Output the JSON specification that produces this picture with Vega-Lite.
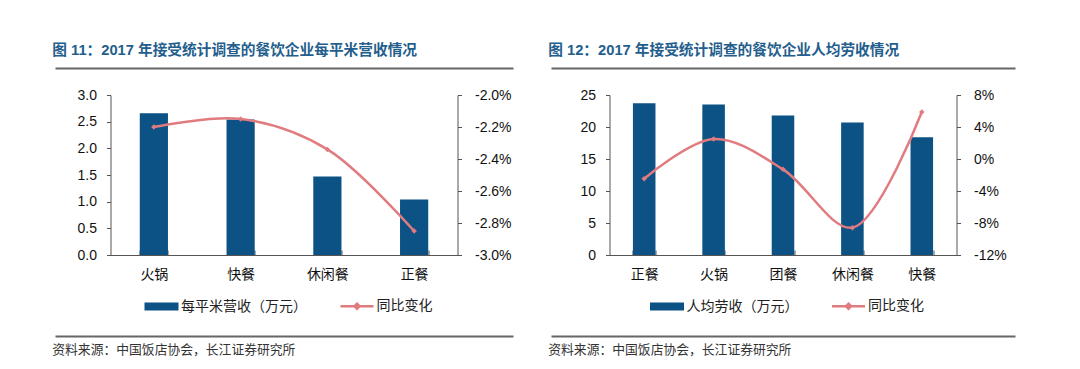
{
  "$schema": "https://vega.github.io/schema/vega-lite/v6.json",
  "background": "white",
  "padding": {"left": 52, "top": 43, "right": 10, "bottom": 5},
  "config": {
    "view": {"stroke": null},
    "font": "Liberation Sans, Noto Sans CJK SC",
    "axis": {"labelFont": "Liberation Sans, Noto Sans CJK SC", "labelFontSize": 14, "labelColor": "#111", "domainColor": "#555", "tickColor": "#555", "grid": false, "title": null},
    "legend": {"labelFont": "Liberation Sans, Noto Sans CJK SC", "labelFontSize": 14, "labelColor": "#222"}
  },
  "resolve": {"scale": {"color": "independent"}},
  "bounds": "full",
  "spacing": 35,
  "hconcat": [
    {
      "bounds": "flush",
      "center": true,
      "spacing": 27,
      "vconcat": [
        {
          "width": 458, "height": 1,
          "title": {"text": "图 11：2017 年接受统计调查的餐饮企业每平米营收情况", "anchor": "start", "fontSize": 14.7, "fontWeight": "bold", "color": "#245E8C", "font": "Liberation Sans, Noto Sans CJK SC", "offset": 7},
          "data": {"values": [{"h": 0}]},
          "mark": {"type": "point", "opacity": 0},
          "encoding": {"x": {"field": "h", "type": "quantitative", "scale": {"domain": [0, 1]}, "axis": {"labels": false, "ticks": false, "domain": true, "domainColor": "#666", "domainWidth": 2, "title": null}}}
        },
        {
          "width": 347, "height": 160,
          "data": {"values": [
            {"cat": "火锅", "v": 2.66, "chg": -0.0220},
            {"cat": "快餐", "v": 2.54, "chg": -0.0215},
            {"cat": "休闲餐", "v": 1.47, "chg": -0.0234},
            {"cat": "正餐", "v": 1.04, "chg": -0.0285}
          ]},
          "encoding": {"x": {"field": "cat", "type": "nominal", "sort": null, "scale": {"paddingInner": 0.675, "paddingOuter": 0.3375}, "axis": {"labelAngle": 0, "tickBand": "extent", "tickSize": -5, "labelPadding": 17, "title": null}}},
          "layer": [
            {
              "mark": {"type": "bar"},
              "encoding": {
                "y": {"field": "v", "type": "quantitative", "scale": {"domain": [0, 3], "nice": false}, "axis": {"values": [0, 0.5, 1, 1.5, 2, 2.5, 3], "format": ".1f", "tickSize": 4, "labelPadding": 10}},
                "color": {"datum": "每平米营收（万元）", "scale": {"domain": ["每平米营收（万元）", "同比变化"], "range": ["#0D5285", "#E07B7F"]},
                  "legend": {"orient": "none", "legendX": 99.5, "legendY": 232, "direction": "horizontal", "title": null, "labelOffset": 12.5, "columnPadding": 27.5, "labelLimit": 300,
                    "encode": {"symbols": {"update": {
                      "shape": {"signal": "datum.value === '同比变化' ? 'M-3.3,0H3.3M0,-0.5L0.5,0L0,0.5L-0.5,0Z' : 'M-3.4,-0.8H3.4V0.8H-3.4Z'"},
                      "fill": {"signal": "datum.value === '同比变化' ? '#E07B7F' : '#0D5285'"},
                      "stroke": {"signal": "datum.value === '同比变化' ? '#E07B7F' : '#0D5285'"},
                      "strokeWidth": {"signal": "datum.value === '同比变化' ? 2.5 : 0"},
                      "opacity": {"value": 1}
                    }}}}}
              }
            },
            {
              "mark": {"type": "line", "interpolate": "catmull-rom", "strokeWidth": 2.5, "point": {"shape": "diamond", "filled": true, "size": 30}},
              "encoding": {
                "y": {"field": "chg", "type": "quantitative", "scale": {"domain": [-0.03, -0.02], "nice": false, "zero": false}, "axis": {"orient": "right", "values": [-0.03, -0.028, -0.026, -0.024, -0.022, -0.02], "format": ".1%", "labelExpr": "replace(datum.label, '−', '-')", "tickSize": 4, "labelPadding": 13}},
                "color": {"datum": "同比变化"}
              }
            }
          ],
          "resolve": {"scale": {"y": "independent"}}
        },
        {
          "width": 458, "height": 54,
          "title": {"text": "资料来源：中国饭店协会，长江证券研究所", "orient": "bottom", "anchor": "start", "fontSize": 12.8, "fontWeight": "normal", "color": "#333", "font": "Liberation Sans, Noto Sans CJK SC", "offset": 8},
          "data": {"values": [{"h": 0}]},
          "mark": {"type": "point", "opacity": 0},
          "encoding": {"x": {"field": "h", "type": "quantitative", "scale": {"domain": [0, 1]}, "axis": {"labels": false, "ticks": false, "domain": true, "domainColor": "#666", "domainWidth": 2, "title": null}}}
        }
      ]
    },
    {
      "bounds": "flush",
      "center": true,
      "spacing": 27,
      "vconcat": [
        {
          "width": 464, "height": 1,
          "title": {"text": "图 12：2017 年接受统计调查的餐饮企业人均劳收情况", "anchor": "start", "fontSize": 14.7, "fontWeight": "bold", "color": "#245E8C", "font": "Liberation Sans, Noto Sans CJK SC", "offset": 7},
          "data": {"values": [{"h": 0}]},
          "mark": {"type": "point", "opacity": 0},
          "encoding": {"x": {"field": "h", "type": "quantitative", "scale": {"domain": [0, 1]}, "axis": {"labels": false, "ticks": false, "domain": true, "domainColor": "#666", "domainWidth": 2, "title": null}}}
        },
        {
          "width": 347, "height": 160,
          "data": {"values": [
            {"cat": "正餐", "v": 23.7, "chg": -0.0246},
            {"cat": "火锅", "v": 23.5, "chg": 0.0250},
            {"cat": "团餐", "v": 21.8, "chg": -0.0129},
            {"cat": "休闲餐", "v": 20.7, "chg": -0.0858},
            {"cat": "快餐", "v": 18.4, "chg": 0.0587}
          ]},
          "encoding": {"x": {"field": "cat", "type": "nominal", "sort": null, "scale": {"paddingInner": 0.675, "paddingOuter": 0.3375}, "axis": {"labelAngle": 0, "tickBand": "extent", "tickSize": -5, "labelPadding": 17, "title": null}}},
          "layer": [
            {
              "mark": {"type": "bar"},
              "encoding": {
                "y": {"field": "v", "type": "quantitative", "scale": {"domain": [0, 25], "nice": false}, "axis": {"values": [0, 5, 10, 15, 20, 25], "tickSize": 4, "labelPadding": 10}},
                "color": {"datum": "人均劳收（万元）", "scale": {"domain": ["人均劳收（万元）", "同比变化"], "range": ["#0D5285", "#E07B7F"]},
                  "legend": {"orient": "none", "legendX": 109, "legendY": 232, "direction": "horizontal", "title": null, "labelOffset": 12.5, "columnPadding": 27.5, "labelLimit": 300,
                    "encode": {"symbols": {"update": {
                      "shape": {"signal": "datum.value === '同比变化' ? 'M-3.3,0H3.3M0,-0.5L0.5,0L0,0.5L-0.5,0Z' : 'M-3.4,-0.8H3.4V0.8H-3.4Z'"},
                      "fill": {"signal": "datum.value === '同比变化' ? '#E07B7F' : '#0D5285'"},
                      "stroke": {"signal": "datum.value === '同比变化' ? '#E07B7F' : '#0D5285'"},
                      "strokeWidth": {"signal": "datum.value === '同比变化' ? 2.5 : 0"},
                      "opacity": {"value": 1}
                    }}}}}
              }
            },
            {
              "mark": {"type": "line", "interpolate": "catmull-rom", "strokeWidth": 2.5, "point": {"shape": "diamond", "filled": true, "size": 30}},
              "encoding": {
                "y": {"field": "chg", "type": "quantitative", "scale": {"domain": [-0.12, 0.08], "nice": false, "zero": false}, "axis": {"orient": "right", "values": [-0.12, -0.08, -0.04, 0, 0.04, 0.08], "format": ".0%", "labelExpr": "replace(datum.label, '−', '-')", "tickSize": 4, "labelPadding": 13}},
                "color": {"datum": "同比变化"}
              }
            }
          ],
          "resolve": {"scale": {"y": "independent"}}
        },
        {
          "width": 464, "height": 54,
          "title": {"text": "资料来源：中国饭店协会，长江证券研究所", "orient": "bottom", "anchor": "start", "fontSize": 12.8, "fontWeight": "normal", "color": "#333", "font": "Liberation Sans, Noto Sans CJK SC", "offset": 8},
          "data": {"values": [{"h": 0}]},
          "mark": {"type": "point", "opacity": 0},
          "encoding": {"x": {"field": "h", "type": "quantitative", "scale": {"domain": [0, 1]}, "axis": {"labels": false, "ticks": false, "domain": true, "domainColor": "#666", "domainWidth": 2, "title": null}}}
        }
      ]
    }
  ]
}
